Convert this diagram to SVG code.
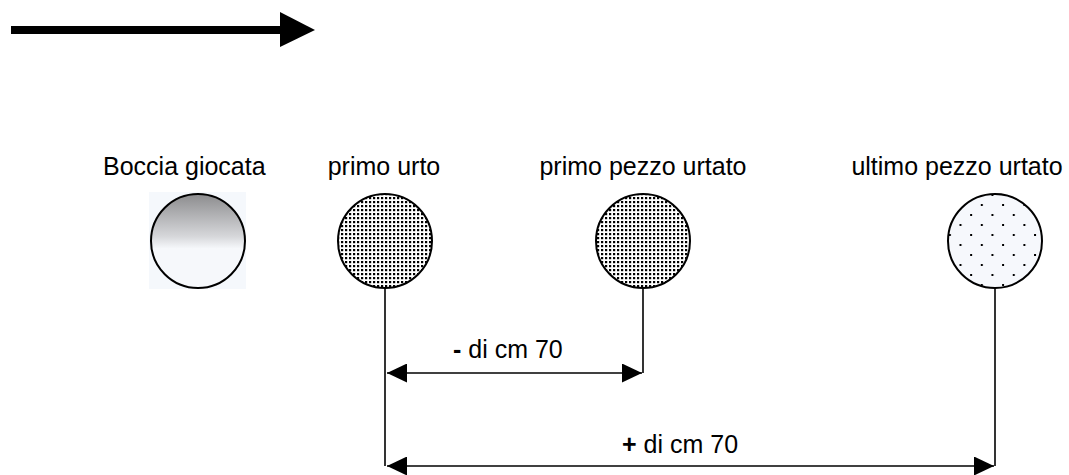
<svg xmlns="http://www.w3.org/2000/svg" width="1069" height="475" viewBox="0 0 1069 475">
<style>
.lbl{font-family:"Liberation Sans",Arial,sans-serif;font-size:25px;fill:#000}
.ball{stroke:#000;stroke-width:2}
.conn{stroke:#000;stroke-width:1.6;fill:none}
</style>
<defs>
<linearGradient id="g1" x1="0" y1="0" x2="0" y2="1">
<stop offset="0" stop-color="#8c8c8e"/>
<stop offset="0.45" stop-color="#d6d7da"/>
<stop offset="0.58" stop-color="#f6f8fb"/>
<stop offset="1" stop-color="#f6f8fb"/>
</linearGradient>
<pattern id="dense" width="4" height="4" patternUnits="userSpaceOnUse">
<rect width="4" height="4" fill="#fff"/>
<rect x="1" y="1" width="2.2" height="2.2" fill="#000"/>
</pattern>
<pattern id="sparse" width="21.3" height="20" patternUnits="userSpaceOnUse" x="1" y="4">
<rect width="21.3" height="20" fill="#f6f8fc"/>
<rect x="0" y="0" width="2" height="2" fill="#000"/>
<rect x="10.65" y="10" width="2" height="2" fill="#000"/>
</pattern>
<marker id="ah" viewBox="0 0 10 10" refX="10" refY="5" markerWidth="20" markerHeight="19" markerUnits="userSpaceOnUse" orient="auto-start-reverse" preserveAspectRatio="none">
<path d="M0,0 L10,5 L0,10 z" fill="#000"/>
</marker>
</defs>
<g id="direction-arrow">
<line x1="11" y1="30" x2="281" y2="30" stroke="#000" stroke-width="8"/>
<polygon points="280,12 315,30 280,47" fill="#000"/>
</g>
<g id="boccia-giocata">
<text class="lbl" x="103" y="175">Boccia giocata</text>
<rect x="149" y="192" width="97" height="97" fill="#f5f8fc"/>
<circle class="ball" cx="198" cy="241" r="47" fill="url(#g1)"/>
</g>
<g id="primo-urto">
<text class="lbl" x="384" y="175" text-anchor="middle">primo urto</text>
<circle class="ball" cx="385" cy="241" r="47" fill="url(#dense)"/>
</g>
<g id="primo-pezzo-urtato">
<text class="lbl" x="643" y="175" text-anchor="middle">primo pezzo urtato</text>
<circle class="ball" cx="643" cy="241" r="47" fill="url(#dense)"/>
</g>
<g id="ultimo-pezzo-urtato">
<text class="lbl" x="957" y="175" text-anchor="middle">ultimo pezzo urtato</text>
<circle class="ball" cx="995" cy="241" r="47" fill="url(#sparse)"/>
</g>
<g id="connectors">
<polyline class="conn" points="385,288 385,466"/>
<polyline class="conn" points="643,288 643,373"/>
<polyline class="conn" points="995,288 995,466"/>
<line class="conn" x1="387" y1="373" x2="642" y2="373" marker-start="url(#ah)" marker-end="url(#ah)"/>
<line class="conn" x1="387" y1="466" x2="994" y2="466" marker-start="url(#ah)" marker-end="url(#ah)"/>
<text class="lbl" x="453" y="358"><tspan font-weight="bold">-</tspan> di cm 70</text>
<text class="lbl" x="622" y="453"><tspan font-weight="bold">+</tspan> di cm 70</text>
</g>
</svg>
